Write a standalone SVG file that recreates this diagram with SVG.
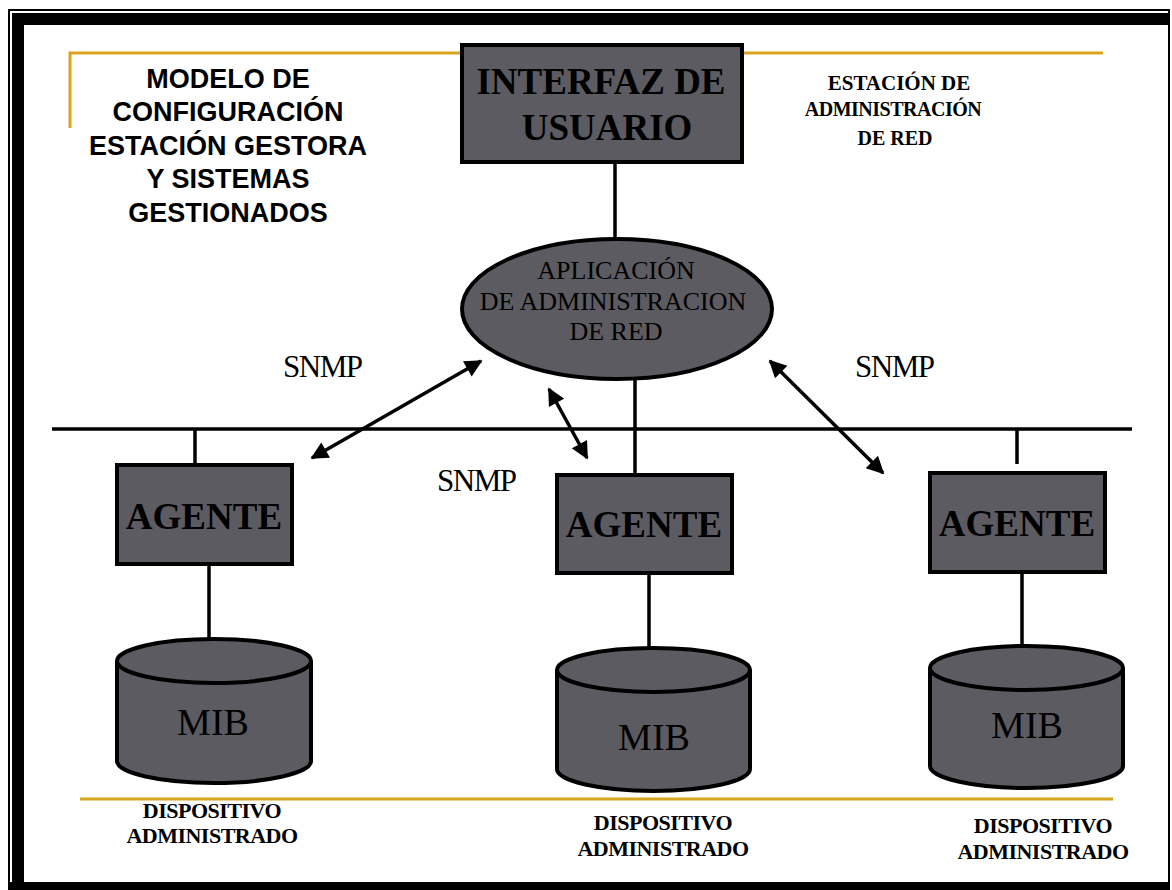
<svg xmlns="http://www.w3.org/2000/svg" width="1172" height="890" viewBox="0 0 1172 890">
<defs>
<style>
.node{fill:#5c5b61;stroke:#000;stroke-width:4}
.ln{stroke:#000;stroke-width:3.5;fill:none}
.gold{stroke:#d8a41c;stroke-width:3;fill:none}
.title{font-family:"Liberation Sans",Arial,sans-serif;font-weight:bold;font-size:27px;fill:#000;text-anchor:middle}
.big{font-family:"Liberation Serif","Times New Roman",serif;font-weight:bold;font-size:37px;fill:#000;text-anchor:middle}
.app{font-family:"Liberation Serif","Times New Roman",serif;font-size:26px;fill:#000;text-anchor:middle}
.snmp{font-family:"Liberation Serif","Times New Roman",serif;font-size:31px;fill:#000;letter-spacing:-1.5px}
.mib{font-family:"Liberation Serif","Times New Roman",serif;font-size:38px;fill:#000;text-anchor:middle}
.lbl{font-family:"Liberation Serif","Times New Roman",serif;font-weight:bold;font-size:20px;fill:#000;text-anchor:middle}
.dev{font-family:"Liberation Serif","Times New Roman",serif;font-weight:bold;font-size:22px;fill:#000;text-anchor:middle;letter-spacing:-0.5px}
</style>
<marker id="ah" viewBox="0 0 10 10" refX="9" refY="5" markerWidth="5.5" markerHeight="5" orient="auto-start-reverse" markerUnits="strokeWidth">
<path d="M0,0 L10,5 L0,10 Z" fill="#000"/>
</marker>
</defs>
<rect x="0" y="0" width="1172" height="890" fill="#fff"/>
<g id="frame">
<rect x="9" y="10" width="1160" height="882" fill="none" stroke="#000" stroke-width="2"/>
<rect x="12" y="13" width="1157" height="12" fill="#000"/>
<rect x="12" y="13" width="12" height="877" fill="#000"/>
<rect x="9" y="882" width="1161" height="8" fill="#000"/>
</g>
<g id="gold-lines">
<path class="gold" d="M70,128 V53 H462"/>
<path class="gold" d="M742,53 H1103"/>
<path class="gold" d="M80,799 H1113"/>
</g>
<g id="title">
<text class="title" x="228" y="88">MODELO DE</text>
<text class="title" x="228" y="121">CONFIGURACIÓN</text>
<text class="title" x="228" y="155">ESTACIÓN GESTORA</text>
<text class="title" x="228" y="188">Y SISTEMAS</text>
<text class="title" x="228" y="222">GESTIONADOS</text>
</g>
<g id="station-label">
<text class="lbl" x="899" y="90" style="font-size:21px">ESTACIÓN DE</text>
<text class="lbl" x="893" y="116" style="letter-spacing:-0.5px">ADMINISTRACIÓN</text>
<text class="lbl" x="895" y="145">DE RED</text>
</g>
<g id="connectors">
<line class="ln" x1="615" y1="162" x2="615" y2="242"/>
<line class="ln" x1="635" y1="378" x2="635" y2="475"/>
<line class="ln" x1="52" y1="429" x2="1132" y2="429"/>
<line class="ln" x1="195" y1="429" x2="195" y2="465"/>
<line class="ln" x1="1017" y1="429" x2="1017" y2="464"/>
<line class="ln" x1="209" y1="564" x2="209" y2="640"/>
<line class="ln" x1="649" y1="573" x2="649" y2="649"/>
<line class="ln" x1="1022" y1="572" x2="1022" y2="647"/>
<line class="ln" x1="312" y1="458" x2="481" y2="361" marker-start="url(#ah)" marker-end="url(#ah)"/>
<line class="ln" x1="549" y1="389" x2="587" y2="458" marker-start="url(#ah)" marker-end="url(#ah)"/>
<line class="ln" x1="770" y1="361" x2="883" y2="473" marker-start="url(#ah)" marker-end="url(#ah)"/>
</g>
<g id="interfaz">
<rect class="node" x="462" y="45" width="280" height="117"/>
<text class="big" x="601" y="94">INTERFAZ DE</text>
<text class="big" x="607" y="140">USUARIO</text>
</g>
<g id="aplicacion">
<ellipse class="node" cx="617" cy="309" rx="155" ry="70"/>
<text class="app" x="616" y="279">APLICACIÓN</text>
<text class="app" x="613" y="310">DE ADMINISTRACION</text>
<text class="app" x="616" y="340">DE RED</text>
</g>
<g id="snmp-labels">
<text class="snmp" x="283" y="377">SNMP</text>
<text class="snmp" x="855" y="377">SNMP</text>
<text class="snmp" x="437" y="491">SNMP</text>
</g>
<g id="agente1">
<rect class="node" x="117" y="465" width="175" height="99"/>
<text class="big" x="204" y="529">AGENTE</text>
</g>
<g id="agente2">
<rect class="node" x="557" y="475" width="175" height="98"/>
<text class="big" x="644" y="537">AGENTE</text>
</g>
<g id="agente3">
<rect class="node" x="930" y="473" width="175" height="99"/>
<text class="big" x="1017" y="536">AGENTE</text>
</g>
<g id="mib1">
<path class="node" d="M117,661 V761 A97,22 0 0 0 311,761 V661"/>
<ellipse class="node" cx="214" cy="661" rx="97" ry="22"/>
<text class="mib" x="213" y="735">MIB</text>
</g>
<g id="mib2">
<path class="node" d="M557,670 V769 A96.5,22 0 0 0 750,769 V670"/>
<ellipse class="node" cx="653.5" cy="670" rx="96.5" ry="22"/>
<text class="mib" x="654" y="750">MIB</text>
</g>
<g id="mib3">
<path class="node" d="M930,668 V766 A96.5,22 0 0 0 1123,766 V668"/>
<ellipse class="node" cx="1026.5" cy="668" rx="96.5" ry="22"/>
<text class="mib" x="1027" y="738">MIB</text>
</g>
<g id="device-labels">
<text class="dev" x="212" y="818">DISPOSITIVO</text>
<text class="dev" x="212" y="843">ADMINISTRADO</text>
<text class="dev" x="663" y="830">DISPOSITIVO</text>
<text class="dev" x="663" y="856">ADMINISTRADO</text>
<text class="dev" x="1043" y="833">DISPOSITIVO</text>
<text class="dev" x="1043" y="859">ADMINISTRADO</text>
</g>
</svg>
